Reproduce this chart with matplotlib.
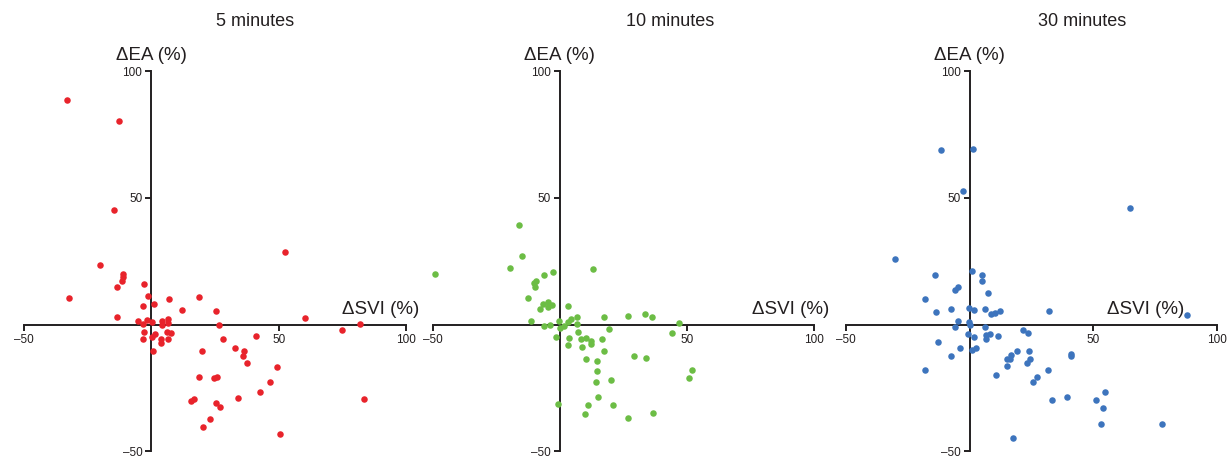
import matplotlib
matplotlib.use('Agg')
import matplotlib.pyplot as plt
import matplotlib.transforms as mtransforms

plt.rcParams['font.family'] = ['Liberation Sans', 'DejaVu Sans']

titles = ['5 minutes', '10 minutes', '30 minutes']
x_label = 'ΔSVI (%)'
y_label = 'ΔEA (%)'
tick_values = [-50, 50, 100]
tick_labels = ['–50', '50', '100']
colors = ['#e8232b', '#6cbd45', '#3d74bd']

x5 = [-33.2, -12.6, -14.5, -20.2, -11.0, -11.1, -11.4, -13.4, -32.3, -2.9, -1.4, -3.1, 0.9, 7.1,
      -13.4, -5.1, -3.1, -1.6, 0.1, 4.2, 4.2, 6.7, 6.4, 11.9, 18.6, 25.3, 26.7, -2.9, -3.1, 0.1,
      1.4, 3.8, 3.9, 6.0, 7.6, 6.7, 0.5, 28.3, 41.1, 60.5, 75.0, 81.9, 52.5, 20.0, 33.0, 36.5,
      35.9, 37.4, 49.2, 18.6, 24.6, 25.8, 46.7, 42.5, 33.9, 15.6, 16.9, 25.4, 27.1, 22.9, 20.2,
      50.5, 83.4]
y5 = [88.7, 80.2, 45.2, 23.6, 19.9, 18.6, 17.4, 14.9, 10.6, 15.9, 11.3, 7.3, 8.0, 10.1,
      3.1, 1.3, 0.4, 1.8, 1.0, 1.3, -0.3, 2.4, 0.7, 5.9, 11.1, 5.4, 0.0, -2.9, -5.8, -4.8,
      -3.8, -5.5, -7.2, -2.9, -3.3, -5.5, -10.5, -5.8, -4.6, 2.6, -2.1, 0.4, 28.7, -10.5, -9.3, -10.5,
      -12.4, -15.3, -16.8, -20.6, -21.2, -20.6, -22.5, -26.7, -28.8, -30.1, -29.3, -30.8, -32.6, -37.1, -40.3,
      -43.2, -29.5]

x10 = [-49.0, -16.1, -14.8, -19.5, -2.8, -6.2, -9.2, -10.2, -9.7, -12.7, -7.9, -6.8, -4.5, -4.5,
       -3.1, 3.1, 13.2, -11.4, -6.2, -3.8, -0.3, 0.0, 1.6, 4.2, 3.1, 6.9, 6.7, 17.2, 26.7, 33.4,
       36.3, 46.9, 44.2, 19.4, -1.4, 3.5, 3.3, 7.3, 8.1, 10.1, 12.4, 12.3, 8.6, 16.4, 17.3, 10.2,
       14.4, 14.4, 14.3, 20.0, 15.1, 29.0, 33.8, 51.9, 50.8, -0.8, 11.0, 9.8, 20.8, 26.6, 36.7]
y10 = [19.8, 39.4, 27.0, 22.4, 20.6, 19.4, 17.4, 16.6, 14.7, 10.5, 6.3, 8.3, 8.8, 6.9,
       7.6, 7.5, 22.0, 1.6, -0.7, 0.0, 1.3, -1.3, -0.7, 2.4, 1.0, 2.9, 0.1, 3.0, 3.5, 4.1,
       3.0, 0.8, -3.3, -1.8, -4.8, -5.1, -8.1, -3.0, -5.5, -5.2, -6.3, -7.6, -8.8, -5.6, -10.3, -13.6,
       -14.5, -18.3, -22.5, -21.7, -28.4, -12.4, -13.2, -17.8, -21.2, -31.2, -31.8, -35.2, -31.8, -36.7, -35.0]

x30 = [-11.6, 1.4, -2.8, 64.8, -30.0, -13.9, 1.1, 4.9, 4.9, -4.5, -5.9, 7.4, -17.9, -13.7,
       -7.6, -0.4, 1.6, 6.2, 8.6, 10.4, 12.2, 32.1, 88.1, -4.5, -0.1, 0.0, -5.8, 6.3, -0.7, 1.6,
       6.6, 8.3, 6.8, 11.6, 21.6, 23.7, -12.9, -3.7, 0.9, 2.6, -7.6, -17.9, 19.2, 16.8, 15.0, 16.2,
       15.3, 23.9, 24.6, 23.3, 10.5, 31.8, 41.1, 41.2, 27.2, 25.7, 33.4, 39.5, 51.1, 55.0, 54.0,
       53.3, 78.0, 17.5]
y30 = [69.0, 69.4, 52.8, 45.9, 25.8, 19.7, 21.1, 19.4, 17.2, 14.9, 13.5, 12.6, 10.0, 5.1,
       6.2, 6.7, 5.9, 6.0, 4.1, 4.7, 5.4, 5.2, 3.9, 1.3, 1.2, 0.0, -1.0, -1.0, -3.8, -4.8,
       -3.9, -3.5, -5.5, -4.5, -2.2, -3.1, -6.8, -9.2, -9.8, -9.2, -12.4, -17.8, -10.3, -11.9, -13.4, -13.5,
       -16.4, -10.5, -13.4, -15.3, -19.9, -17.8, -11.7, -12.4, -20.8, -22.7, -29.6, -28.7, -29.6, -26.5, -32.9,
       -39.3, -39.0, -44.7]

series = [(x5, y5), (x10, y10), (x30, y30)]

W, H = 1228.0, 458.0
fig = plt.figure(figsize=(W / 100, H / 100), dpi=100)

# pixel layout of each panel (left edge at x=-50, right edge at x=100)
panels = [(24.0, 406.0), (432.7, 814.3), (846.0, 1216.7)]
title_cx = [255.0, 670.0, 1082.0]
svi_right = [419.0, 829.3, 1184.0]
ax_top, ax_bot = 71.0, 451.5
ink = '#231f20'

for i, ((l, r), (xs, ys)) in enumerate(zip(panels, series)):
    ax = fig.add_axes([l / W, (H - ax_bot) / H, (r - l) / W, (ax_bot - ax_top) / H])
    ax.set_xlim(-50, 100)
    ax.set_ylim(-50, 100)
    ax.patch.set_alpha(0)
    ax.scatter(xs, ys, s=22, color=colors[i], linewidths=0, zorder=3, clip_on=False)
    for s in ['top', 'right']:
        ax.spines[s].set_visible(False)
    ax.spines['left'].set_position(('data', 0))
    ax.spines['bottom'].set_position(('data', 0))
    for s in ['left', 'bottom']:
        ax.spines[s].set_linewidth(1.4)
        ax.spines[s].set_color(ink)
    ax.set_xticks(tick_values, tick_labels)
    ax.set_yticks(tick_values, tick_labels)
    ax.tick_params(direction='out', length=4.5, width=1.4, labelsize=8.5, pad=2,
                   color=ink, labelcolor=ink)
    # title
    ax.text((title_cx[i] - l) / (r - l), (ax_bot - 22) / (ax_bot - ax_top), titles[i],
            transform=ax.transAxes, ha='center', va='center', fontsize=13, color=ink)
    # y label above y axis
    trans = mtransforms.blended_transform_factory(ax.transData, ax.transAxes)
    ax.text(0, (ax_bot - 55) / (ax_bot - ax_top), y_label, transform=trans,
            ha='center', va='center', fontsize=13.5, color=ink)
    # x label above right end of x axis
    trans2 = mtransforms.blended_transform_factory(ax.transAxes, ax.transData)
    ax.text((svi_right[i] - l) / (r - l), 6.0, x_label, transform=trans2,
            ha='right', va='center', fontsize=13.5, color=ink)

fig.savefig('out.png', dpi=100)
